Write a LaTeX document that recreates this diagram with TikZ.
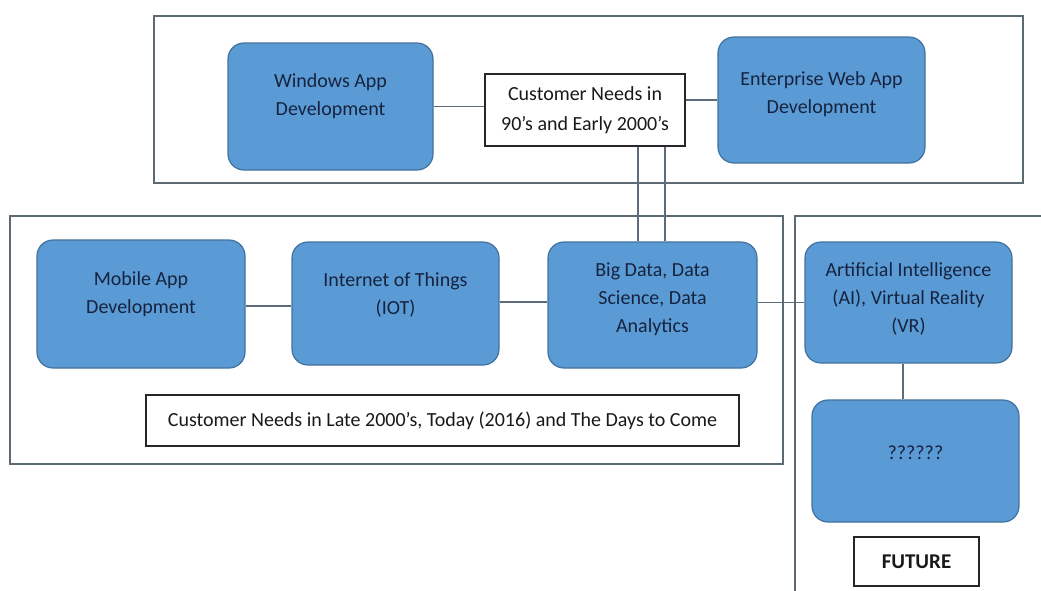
\documentclass[tikz,border=0pt]{standalone}
\usepackage{fontspec}
\setmainfont{Carlito}
\definecolor{boxfill}{HTML}{5B9BD5}
\definecolor{boxedge}{HTML}{41719C}
\definecolor{boxtext}{HTML}{16233F}
\definecolor{framecol}{HTML}{5E6A72}
\definecolor{linkcol}{HTML}{5C6C7A}
\tikzset{
  bluebox/.style={draw=boxedge, fill=boxfill, line width=1.2pt, rounded corners=16pt, inner sep=0pt},
  btext/.style={text=boxtext, align=center, font=\fontsize{20}{28}\selectfont, inner sep=0pt},
  whitebox/.style={draw=black!85, fill=white, line width=1.3pt, inner sep=0pt, align=center, text=black!90, font=\fontsize{20}{30}\selectfont},
  frame/.style={draw=framecol, line width=1.5pt},
  link/.style={draw=linkcol, line width=1.2pt}
}
\begin{document}
\begin{tikzpicture}[x=1pt, y=-1pt]
\useasboundingbox (0,0) rectangle (1041,590);
% frames
\draw[frame] (154,16) rectangle (1023,183);
\draw[frame] (10,216) rectangle (783,464);
\draw[frame] (795,592) -- (795,216) -- (1043,216);
% top row
\node[bluebox, minimum width=205pt, minimum height=127pt] (win) at (330.5,106.5) {};
\node[btext] (win-t) at ([yshift=10pt]win.center) {Windows App\\Development};
\node[whitebox, minimum width=200pt, minimum height=72pt] (cust) at (585,110) {Customer Needs in\\90’s and Early 2000’s};
\node[bluebox, minimum width=207pt, minimum height=126pt] (ent) at (821.5,100) {};
\node[btext] (ent-t) at ([yshift=6pt]ent.center) {Enterprise Web App\\Development};
% middle row
\node[bluebox, minimum width=208pt, minimum height=128pt] (mob) at (141,304) {};
\node[btext] (mob-t) at ([yshift=10pt]mob.center) {Mobile App\\Development};
\node[bluebox, minimum width=207pt, minimum height=123pt] (iot) at (395.5,303.5) {};
\node[btext] (iot-t) at ([yshift=9pt]iot.center) {Internet of Things\\(IOT)};
\node[bluebox, minimum width=209pt, minimum height=126pt] (big) at (652.5,305) {};
\node[btext] (big-t) at ([yshift=6pt]big.center) {Big Data, Data\\Science, Data\\Analytics};
\node[whitebox, minimum width=593pt, minimum height=51pt] (late) at (442.5,420.5) {Customer Needs in Late 2000’s, Today (2016) and The Days to Come};
% right column
\node[bluebox, minimum width=207pt, minimum height=121pt] (ai) at (908.5,302.5) {};
\node[btext] (ai-t) at ([yshift=3.5pt]ai.center) {Artificial Intelligence\\(AI), Virtual Reality\\(VR)};
\node[bluebox, minimum width=207pt, minimum height=122pt] (unk) at (915.5,461) {};
\node[btext] (unk-t) at ([yshift=8pt]unk.center) {??????};
\node[whitebox, minimum width=125pt, minimum height=49pt, font=\fontsize{21}{26}\selectfont\bfseries] (fut) at (916.5,561.5) {FUTURE};
% connectors
\draw[link] (win.east) -- (win.east -| cust.west);
\draw[link] (ent.west -| cust.east) -- (ent.west);
\draw[link] ([xshift=53pt]cust.south) -- ([xshift=53pt]cust.south |- big.north);
\draw[link] ([xshift=80pt]cust.south) -- ([xshift=80pt]cust.south |- big.north);
\draw[link] ([yshift=-2pt]mob.east) -- ([yshift=-2pt]mob.east -| iot.west);
\draw[link] ([yshift=1.5pt]iot.east) -- ([yshift=1.5pt]iot.east -| big.west);
\draw[link] (ai.west -| big.east) -- (ai.west);
\draw[link] ([xshift=-5.5pt]ai.south) -- ([xshift=-5.5pt]ai.south |- unk.north);
\end{tikzpicture}
\end{document}
